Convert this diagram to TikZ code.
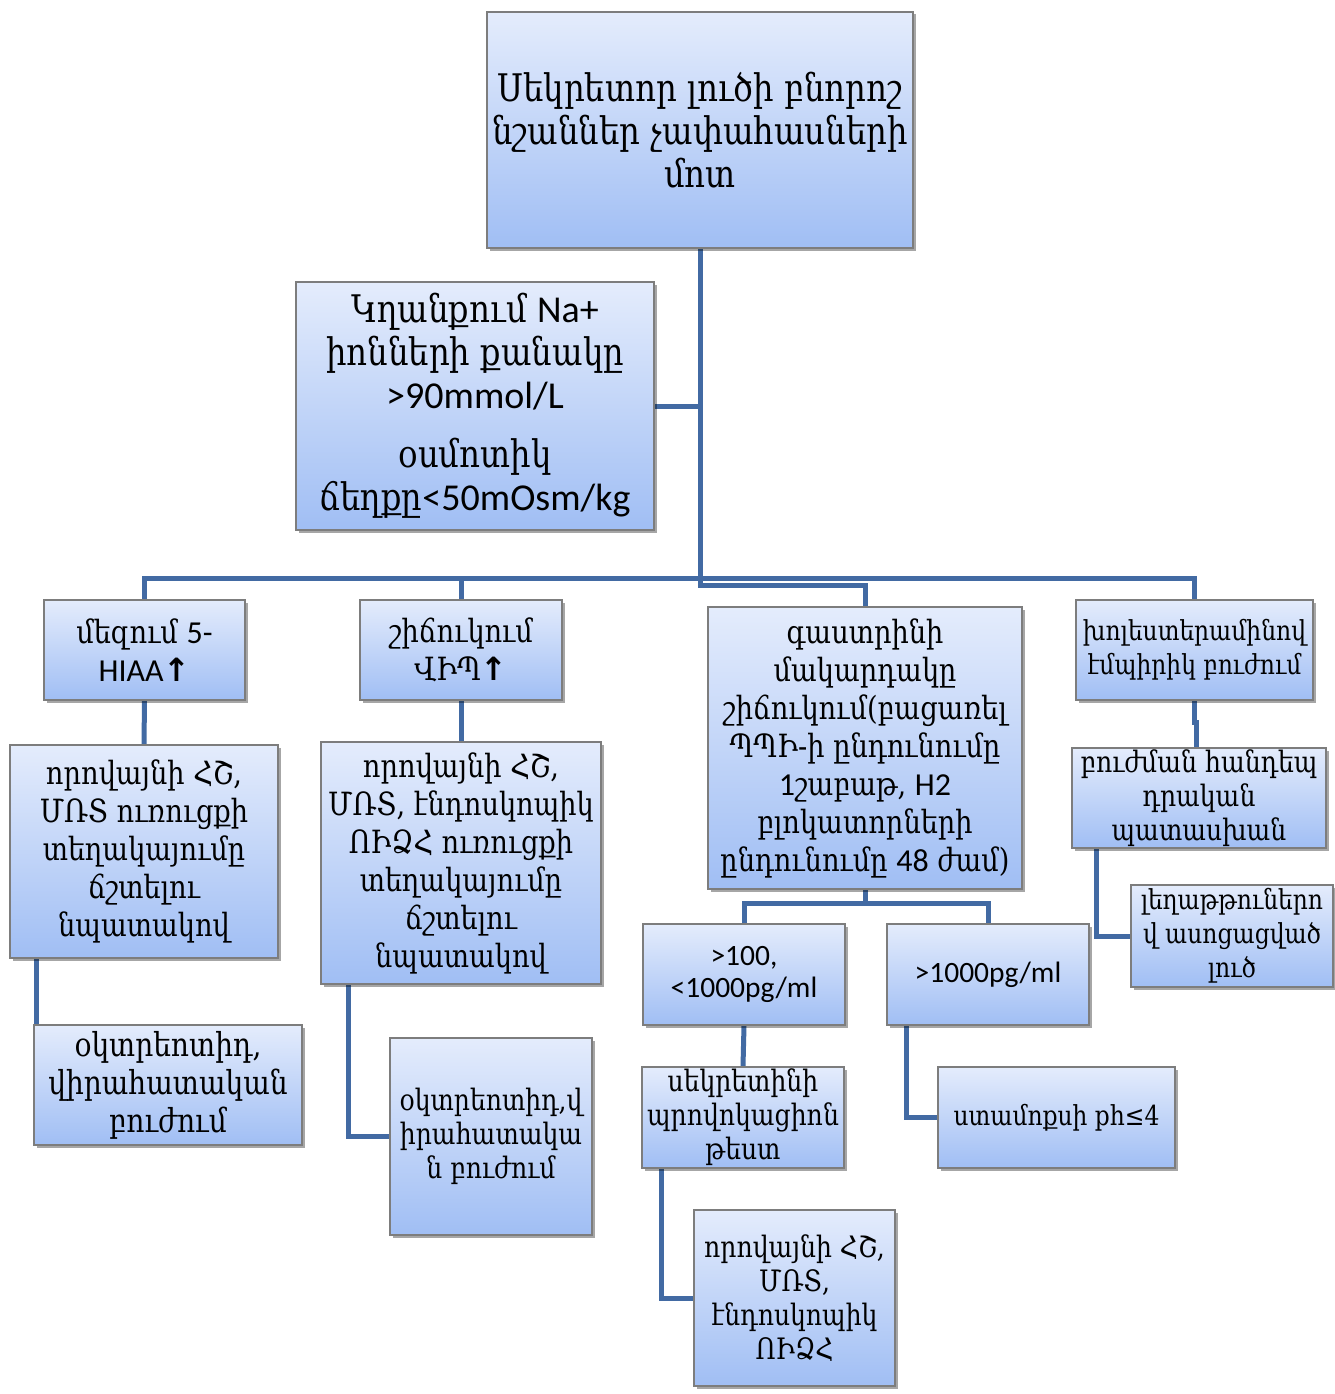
\documentclass[tikz,border=0pt]{standalone}
\usepackage{fontspec}
\setmainfont[FakeStretch=0.85]{DejaVu Serif}
\newfontfamily\lat{Carlito}
\newfontfamily\symf{DejaVu Sans}
\usetikzlibrary{shadows}
\definecolor{boxtop}{RGB}{228,236,252}
\definecolor{boxbot}{RGB}{160,190,244}
\definecolor{boxline}{RGB}{125,125,125}
\definecolor{linkcol}{RGB}{66,106,163}
\newcommand\upar{{\symf\bfseries ↑}}
\pgfdeclarelayer{bg}
\pgfsetlayers{bg,main}
\tikzset{
  box/.style={draw=boxline, line width=1.2pt, top color=boxtop, bottom color=boxbot,
    drop shadow={shadow xshift=2.5pt, shadow yshift=-2.5pt, fill=black, opacity=0.35},
    align=center, inner sep=0pt},
  bigtxt/.style={font=\fontsize{38}{43}\selectfont},
  midtxt/.style={font=\fontsize{32}{38}\selectfont},
  smtxt/.style={font=\fontsize{29.5}{34}\selectfont},
  tinytxt/.style={font=\fontsize{27.5}{34}\selectfont},
  lattxt/.style={font=\fontsize{29.5}{32}\selectfont},
  conn/.style={draw=linkcol, line width=5pt}
}
\begin{document}
\begin{tikzpicture}[x=1pt,y=-1pt]
\begin{pgfonlayer}{bg}
\fill[white] (0,0) rectangle (1335,1394);
\end{pgfonlayer}
\useasboundingbox (0,0) rectangle (1335,1394);
\node[box,bigtxt,minimum width=426pt,minimum height=236pt] (top) at (700,130)
  {Սեկրետոր լուծի բնորոշ\\նշաններ չափահասների\\մոտ};
\node[box,bigtxt,minimum width=358pt,minimum height=248pt] (na) at (475,406)
  {Կղանքում {\lat Na+}\\իոնների քանակը\\{\lat >90mmol/L}\\[16pt]օսմոտիկ\\ճեղքը{\lat <50mOsm/kg}};
\node[box,midtxt,minimum width=201pt,minimum height=100pt] (meg) at (144.5,650)
  {մեզում {\lat 5-}\\{\lat HIAA}\upar};
\node[box,midtxt,minimum width=202pt,minimum height=100pt] (shich) at (461,650)
  {շիճուկում\\ՎԻՊ\upar};
\node[box,midtxt,minimum width=314pt,minimum height=282pt] (gastr) at (865,748)
  {գաստրինի\\մակարդակը\\շիճուկում(բացառել\\ՊՊԻ-ի ընդունումը\\{\lat 1}շաբաթ, {\lat H2}\\բլոկատորների\\ընդունումը {\lat 48} ժամ)};
\node[box,tinytxt,minimum width=237pt,minimum height=100pt] (khol) at (1194.5,650)
  {խոլեստերամինով\\էմպիրիկ բուժում};
\node[box,smtxt,minimum width=254pt,minimum height=100pt] (buzh) at (1199,798)
  {բուժման հանդեպ\\դրական\\պատասխան};
\node[box,tinytxt,minimum width=202pt,minimum height=102pt] (legh) at (1232,936)
  {լեղաթթուներո\\վ ասոցացված\\լուծ};
\node[box,midtxt,minimum width=268pt,minimum height=213pt] (orov1) at (144,851.5)
  {որովայնի ՀՇ,\\ՄՌՏ ուռուցքի\\տեղակայումը\\ճշտելու\\նպատակով};
\node[box,midtxt,font=\fontsize{33}{38}\selectfont,minimum width=268pt,minimum height=120pt] (okt1) at (168,1085)
  {օկտրեոտիդ,\\վիրահատական\\բուժում};
\node[box,midtxt,minimum width=280pt,minimum height=242pt] (orov2) at (461,863)
  {որովայնի ՀՇ,\\ՄՌՏ, էնդոսկոպիկ\\ՈԻՁՀ ուռուցքի\\տեղակայումը\\ճշտելու\\նպատակով};
\node[box,smtxt,minimum width=202pt,minimum height=197pt] (okt2) at (491,1136.5)
  {օկտրեոտիդ,վ\\իրահատակա\\ն բուժում};
\node[box,lattxt,minimum width=202pt,minimum height=101pt] (r100) at (744,974.5)
  {{\lat >100,}\\{\lat <1000pg/ml}};
\node[box,lattxt,minimum width=202pt,minimum height=101pt] (r1000) at (988,974.5)
  {{\lat >1000pg/ml}};
\node[box,smtxt,minimum width=202pt,minimum height=101pt] (sekr) at (743,1117.5)
  {սեկրետինի\\պրովոկացիոն\\թեստ};
\node[box,tinytxt,minimum width=237pt,minimum height=101pt] (stam) at (1056.5,1117.5)
  {ստամոքսի ph≤4};
\node[box,smtxt,minimum width=201pt,minimum height=176pt] (orov3) at (794.5,1298)
  {որովայնի ՀՇ,\\ՄՌՏ,\\էնդոսկոպիկ\\ՈԻՁՀ};
\coordinate (bus) at (700,578);
\coordinate (gj) at (700,585);
\coordinate (gb) at (865,903);
\coordinate (kj) at (1194.5,722);
\begin{pgfonlayer}{bg}
\draw[conn] (top.south) -- (gj) -| (gastr.north);
\draw[conn] (na.east) -- (na.east -| top.south);
\draw[conn] (meg.north) -- (meg.north |- bus) -- (khol.north |- bus) -- (khol.north);
\draw[conn] (shich.north) -- (shich.north |- bus);
\draw[conn] (meg.south) -- (orov1.north);
\draw[conn] (shich.south) -- (orov2.north);
\draw[conn] (khol.south) -- (kj) -| ([xshift=-3pt]buzh.north);
\draw[conn] ([xshift=25pt]buzh.south west) |- (legh.west);
\draw[conn] ([xshift=27pt]orov1.south west) -- ([xshift=27pt]orov1.south west |- okt1.west);
\draw[conn] ([xshift=28pt]orov2.south west) |- (okt2.west);
\draw[conn] (gastr.south) -- (gb) -| (r100.north);
\draw[conn] (gb) -| (r1000.north);
\draw[conn] (r100.south) -- (sekr.north);
\draw[conn] ([xshift=20pt]r1000.south west) |- (stam.west);
\draw[conn] ([xshift=20pt]sekr.south west) |- (orov3.west);
\end{pgfonlayer}
\end{tikzpicture}
\end{document}
